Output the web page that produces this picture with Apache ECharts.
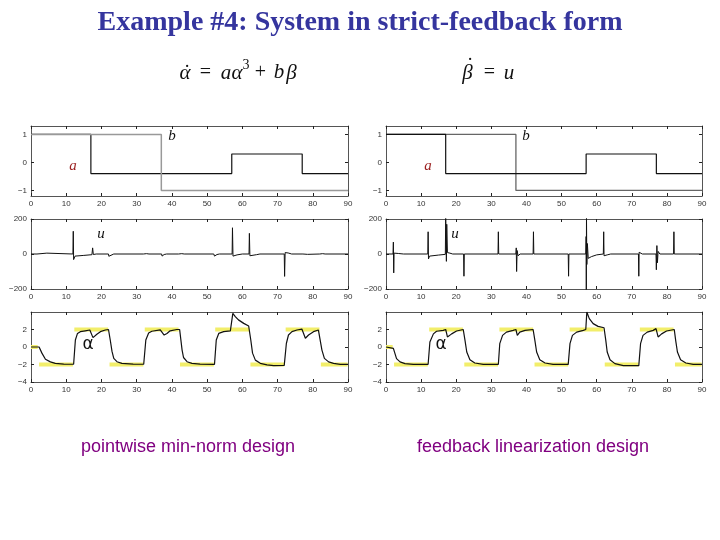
<!DOCTYPE html>
<html><head><meta charset="utf-8">
<script src="https://cdn.jsdelivr.net/npm/echarts@6/dist/echarts.min.js"></script>
<style>html,body{margin:0;padding:0;background:#fff}#c{width:720px;height:540px}</style>
</head><body><div id="c"></div>
<script>
// ---------- data ----------
var xTicks = [0,10,20,30,40,50,60,70,80,90];
var abTicks = [-1,0,1];
var uTicks = [-200,0,200];
var alphaTicks = [-4,-2,0,2];

// top plots: a (black) and b (gray), step signals [t, value]
var aLeft  = [[0,1],[17,1],[17,-0.4],[57,-0.4],[57,0.3],[77,0.3],[77,-0.4],[90,-0.4]];
var bLeft  = [[0,1],[37,1],[37,-1],[90,-1]];
var aRight = [[0,1],[17,1],[17,-0.4],[57,-0.4],[57,0.3],[77,0.3],[77,-0.4],[90,-0.4]];
var bRight = [[0,1],[37,1],[37,-1],[90,-1]];

// middle plots: control u
var uLeft = [[0,0],[1.7,0],[2,5],[4.5,5],[4.8,0],[11.9,0],[12,130],[12.1,-32],[12.5,-12],[15,-8],[17.3,-4],[17.5,35],[17.7,-3],[18.5,0],
  [22,0],[22.1,-13],[22.6,-3],[23.5,0],[31.9,0],[32.1,10],[32.8,2],[33.5,0],[37.1,0],[37.2,-12],[37.8,-3],[38.5,0],
  [41.9,0],[42.1,10],[42.8,2],[43.5,0],[51.9,0],[52.1,-12],[52.8,-3],[53.5,0],[57.1,0],[57.2,150],[57.35,-12],[58.5,-5],[60,0],
  [61.9,0],[62,118],[62.15,-10],[64,-4],[65,0],[71.9,0],[72,-128],[72.15,8],[73,6],[74,0],[77.2,0],[77.3,8],[77.5,-8],[78.5,-2],[79,0],
  [82,0],[82.1,10],[82.8,2],[83.5,0],[90,0]];
var uRight = [[0,0],[2,0],[2.1,68],[2.2,-108],[2.3,5],[3.5,3],[5,0],[11.9,0],[12,127],[12.1,-28],[12.4,-12],[15,-6],[16.9,-2],
  [17,210],[17.2,-42],[17.3,170],[17.5,8],[18.2,5],[19,0],[22.1,0],[22.2,-127],[22.3,0],[31.9,0],[32,127],[32.1,0],
  [37,0],[37.1,35],[37.2,-100],[37.35,20],[37.6,-10],[38.2,0],[41.9,0],[42,127],[42.1,0],[51.9,0],[52,-127],[52.1,0],
  [56.9,0],[57,100],[57.05,-210],[57.1,210],[57.2,-60],[57.35,60],[57.6,-25],[58.5,-15],[60,-5],[61.9,0],[62,127],[62.1,-10],[63,-5],[64,0],
  [71.9,0],[72,-127],[72.1,10],[73,0],[76.9,0],[77,-90],[77.15,48],[77.3,-50],[77.5,15],[78,0],[81.9,0],[82,127],[82.1,0],[90,0]];

// bottom plots: state alpha and its reference
var refTimes  = [0,2,12,22,32,42,52,62,72,82,90];
var refLevels = [0,-2,2,-2,2,-2,2,-2,2,-2];
var alphaLeft = [[0,0],[2.3,0],[3.1,-0.7],[4.1,-1.4],[5.5,-1.7],[6.9,-1.87],[9.3,-1.95],[12.1,-1.97],
  [12.6,0.8],[13.2,1.55],[14,1.75],[15.4,1.85],[16.7,1.94],[17,2.0],[17.6,1.07],[18.7,1.45],[19.7,1.75],[21.1,1.94],[22,2.0],
  [22.5,0.8],[23,-0.5],[23.5,-1.3],[24.4,-1.68],[25.8,-1.87],[29,-1.95],[32,-1.97],
  [32.6,0.8],[33.4,1.6],[34.3,1.8],[36.7,1.95],[37.2,1.9],[37.8,1.37],[38.6,1.55],[39.5,1.85],[41.4,2.0],[42.2,2.0],
  [42.9,-0.35],[43.3,-1.2],[44.3,-1.68],[45.7,-1.87],[48,-1.95],[52.1,-1.98],
  [52.6,0.8],[53.3,1.55],[54.7,1.75],[56.6,1.85],[57.1,1.95],[57.3,3.85],[58,3.47],[58.9,3.1],[60.4,2.7],[61.8,2.4],[62.1,2.32],
  [62.4,0.8],[62.9,-0.7],[63.7,-1.5],[65.1,-1.87],[67,-2.05],[68.9,-2.13],[71.9,-2.1],
  [72.5,0.4],[73.1,1.37],[74.1,1.75],[75.5,1.94],[76.9,2.05],[77.9,1.0],[78.8,1.37],[80.2,1.75],[81.6,1.94],[82.1,1.94],
  [82.6,-0.35],[83.3,-1.3],[84.5,-1.7],[85.9,-1.87],[87.8,-1.98],[90,-1.98]];
var alphaRight = [[0,0],[2.1,-0.15],[3,-1.33],[4,-1.7],[5.4,-1.9],[7.8,-1.98],[12,-1.98],
  [12.5,0.57],[13.5,1.5],[14.4,1.8],[16.3,1.9],[17,2.0],[17.5,1.15],[18.7,1.5],[20.1,1.83],[22,2.0],
  [22.5,0.76],[23,-0.57],[23.9,-1.45],[25.3,-1.83],[27.7,-1.98],[32,-1.98],
  [32.4,0.38],[33.2,1.33],[34.3,1.7],[36.2,1.9],[37,2.0],[37.4,1.33],[38.1,1.7],[39.6,1.9],[41.9,2.0],
  [42.4,0.76],[42.9,-0.57],[43.8,-1.45],[45.3,-1.83],[47.6,-1.98],[51.9,-1.98],
  [52.4,0.38],[53.1,1.33],[54.3,1.7],[56.2,1.9],[56.9,2.0],[57.2,4.0],[57.9,3.24],[59,2.67],[60.4,2.36],[62.1,2.2],
  [62.6,0.76],[63,-0.57],[63.8,-1.45],[65.2,-1.9],[67.6,-2.13],[72,-2.13],
  [72.5,0.38],[73.2,1.33],[74.4,1.7],[76.1,1.9],[76.9,2.1],[77.5,1.15],[78.5,1.5],[79.9,1.83],[82.1,2.0],
  [82.5,0.76],[83,-0.57],[83.9,-1.45],[85.4,-1.83],[87.5,-1.98],[90,-1.98]];

// ---------- layout ----------
var cols = [{left:31, width:317}, {left:386, width:316}];
var rows = [{top:126, height:70, min:-1.2, max:1.3, ticks:abTicks},
            {top:219, height:70, min:-200, max:200, ticks:uTicks},
            {top:312, height:70, min:-4, max:4, ticks:alphaTicks}];

var grids = [], xAxes = [], yAxes = [], series = [];
var axisColor = '#555';
function fmt(v){ return String(v).replace('-', '\u2212'); }

rows.forEach(function(r, ri){
  cols.forEach(function(c, ci){
    var gi = grids.length;
    grids.push({left:c.left, top:r.top, width:c.width, height:r.height, containLabel:false});
    var xb = {type:'value', gridIndex:gi, min:0, max:90, interval:10, position:'bottom',
      axisLine:{show:true, onZero:false, lineStyle:{color:axisColor, width:1}},
      axisTick:{show:true, inside:true, length:3, lineStyle:{color:'#222'}},
      axisLabel:{show:true, fontSize:8, color:'#333', margin:4, fontFamily:'Liberation Sans'},
      splitLine:{show:false}};
    var xt = {type:'value', gridIndex:gi, min:0, max:90, interval:10, position:'top',
      axisLine:{show:true, onZero:false, lineStyle:{color:axisColor, width:1}},
      axisTick:{show:true, inside:true, length:3, lineStyle:{color:'#222'}},
      axisLabel:{show:false}, splitLine:{show:false}};
    var yl = {type:'value', gridIndex:gi, min:r.min, max:r.max, position:'left',
      axisLine:{show:true, onZero:false, lineStyle:{color:axisColor, width:1}},
      axisTick:{show:true, inside:true, length:3, customValues:r.ticks, lineStyle:{color:'#222'}},
      axisLabel:{show:true, fontSize:8, color:'#333', margin:4, customValues:r.ticks, formatter:fmt, fontFamily:'Liberation Sans'},
      splitLine:{show:false}};
    var yr = {type:'value', gridIndex:gi, min:r.min, max:r.max, position:'right',
      axisLine:{show:true, onZero:false, lineStyle:{color:axisColor, width:1}},
      axisTick:{show:true, inside:true, length:3, customValues:r.ticks, lineStyle:{color:'#222'}},
      axisLabel:{show:false}, splitLine:{show:false}};
    var xi = xAxes.length; xAxes.push(xb, xt);
    var yi = yAxes.length; yAxes.push(yl, yr);
    function addLine(data, color, width, z){
      series.push({type:'line', xAxisIndex:xi, yAxisIndex:yi, data:data, showSymbol:false, symbol:'none',
        lineStyle:{color:color, width:width}, connectNulls:false, animation:false, z:z||2, clip:true});
    }
    if (ri === 0) {
      if (ci === 0) { addLine(aLeft, '#111', 1.2, 2); addLine(bLeft, '#999', 1.5, 3); }
      else { addLine(bRight, '#666', 1.3, 2); addLine(aRight, '#111', 1.2, 3); }
    } else if (ri === 1) {
      addLine(ci === 0 ? uLeft : uRight, '#111', 1, 2);
    } else {
      var ref = [];
      for (var k = 0; k < refLevels.length; k++) {
        ref.push([refTimes[k] + (k ? 0.3 : 0), refLevels[k]]);
        ref.push([refTimes[k+1] - 0.1, refLevels[k]]);
        ref.push([refTimes[k+1], null]);
      }
      addLine(ref, '#f2ee6a', 4, 1);
      addLine(ci === 0 ? alphaLeft : alphaRight, '#111', 1.2, 3);
    }
  });
});

function tok(text, x, y, font, fill) {
  return {type:'text', x:x, y:y, z:100, style:{text:text, font:font, fill:fill || '#111', textAlign:'center', textVerticalAlign:'middle'}};
}
var fi = 'italic 21px "Liberation Serif"', fn = '20px "Liberation Serif"';
var graphics = [
  {type:'text', left:'center', top:9, style:{text:'Example #4: System in strict-feedback form',
    font:'bold 28px "Liberation Serif"', fill:'#35359e'}},
  // equation 1
  tok('\u03b1', 185, 73, fi), tok('\u02d9', 187, 74, fn),
  tok('=', 205.5, 73, fn), tok('a', 226, 73, fi), tok('\u03b1', 237, 73, fi),
  tok('3', 246, 65, '14px "Liberation Serif"'), tok('+', 260.5, 73, fn),
  tok('b', 279, 72, fi), tok('\u03b2', 291.5, 73, fi),
  // equation 2
  tok('\u03b2', 467.5, 73, fi), tok('\u02d9', 470, 67, fn),
  tok('=', 489.5, 73, fn), tok('u', 509, 73, fi),
  // captions
  tok('pointwise min-norm design', 188, 447, '18px "Liberation Sans"', '#800080'),
  tok('feedback linearization design', 533, 447, '18px "Liberation Sans"', '#800080'),
  // in-plot labels
  tok('b', 172, 136, 'italic 15px "Liberation Serif"'),
  tok('b', 526, 136, 'italic 15px "Liberation Serif"'),
  tok('a', 73, 166, 'italic 15px "Liberation Serif"', '#9a1f1f'),
  tok('a', 428, 166, 'italic 15px "Liberation Serif"', '#9a1f1f'),
  tok('u', 101, 234, 'italic 15px "Liberation Serif"'),
  tok('u', 455, 234, 'italic 15px "Liberation Serif"'),
  tok('\u03b1', 88, 345, '17px "DejaVu Sans"'),
  tok('\u03b1', 441, 345, '17px "DejaVu Sans"')
];

var chart = echarts.init(document.getElementById('c'), null, {renderer:'canvas'});
chart.setOption({backgroundColor:'#fff', animation:false, grid:grids, xAxis:xAxes, yAxis:yAxes, series:series, graphic:graphics});
</script></body></html>
